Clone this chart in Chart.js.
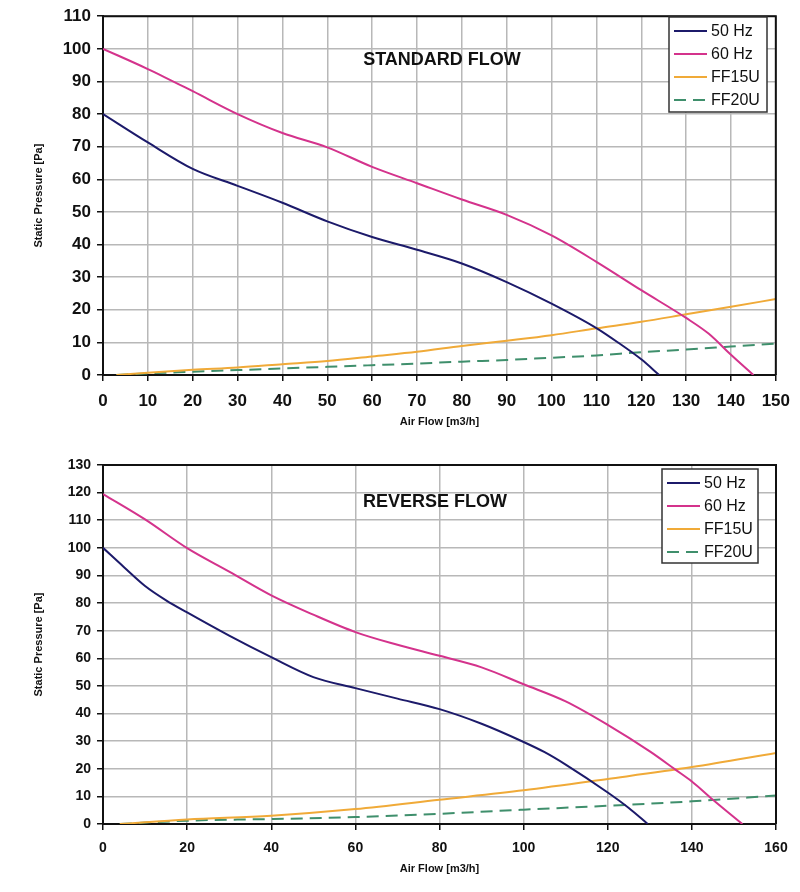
<!DOCTYPE html>
<html lang="en">
<head>
    <meta charset="UTF-8">
    <title>Fan curves</title>
    <script src="https://cdn.jsdelivr.net/npm/chart.js@4.4.1/dist/chart.umd.min.js"></script>
    <style>
        body { margin: 0; background: #fff; }
        .box { position: relative; width: 800px; }
    </style>
</head>
<body>
<div class="box" style="height:440px"><canvas id="stdChart"></canvas></div>
<div class="box" style="height:452px"><canvas id="revChart"></canvas></div>
<script>
    // standard flow
    const stdFlow50 = [0, 10, 20, 30, 40, 50, 60, 70, 80, 90, 100, 110, 115, 120, 124];
    const stdP50 = [80, 71.3, 63.2, 58, 52.8, 47.1, 42.3, 38.4, 34.2, 28.5, 21.9, 14.4, 9.8, 4.8, 0];
    const stdFlow60 = [0, 10, 20, 30, 40, 50, 60, 70, 80, 90, 100, 110, 120, 130, 135, 140, 145];
    const stdP60 = [100, 93.8, 87, 80, 74.2, 69.8, 63.8, 58.8, 53.8, 49.1, 42.8, 34.7, 26, 17.5, 12.7, 6.2, 0];
    const stdFlowFF = [3, 10, 20, 30, 40, 50, 60, 70, 80, 90, 100, 110, 120, 130, 140, 150];
    const stdFF15 = [0, 0.7, 1.6, 2.3, 3.3, 4.3, 5.7, 7.1, 8.9, 10.5, 12.2, 14.3, 16.3, 18.6, 20.9, 23.3];
    const stdFF20 = [0, 0.5, 1.0, 1.5, 2.0, 2.5, 3.0, 3.5, 4.1, 4.6, 5.3, 6.0, 7.0, 7.8, 8.7, 9.6];

    // reverse flow
    const revFlow50 = [0, 5, 10, 15, 20, 30, 40, 50, 60, 70, 80, 90, 100, 105, 110, 120, 125, 129.5];
    const revP50 = [100, 93, 86.2, 81, 76.6, 68.2, 60.4, 53.2, 49.2, 45.4, 41.6, 36.3, 29.7, 26, 21.5, 11.4, 5.8, 0];
    const revFlow60 = [0, 10, 20, 30, 40, 50, 60, 70, 80, 90, 100, 110, 120, 130, 136, 140, 145, 152];
    const revP60 = [119.5, 110.3, 99.9, 91.4, 82.8, 75.8, 69.5, 64.9, 60.9, 56.7, 50.6, 44.4, 35.9, 26.3, 19.8, 15.4, 8.8, 0];
    const revFlowFF = [4, 20, 40, 60, 80, 100, 120, 140, 160];
    const revFF15 = [0, 1.6, 3.0, 5.4, 8.8, 12.2, 16.3, 20.6, 25.7];
    const revFF20 = [0, 1.2, 1.8, 2.5, 3.7, 5.2, 6.6, 8.2, 10.3];

    const seriesNames = ['50 Hz', '60 Hz', 'FF15U', 'FF20U'];
    const seriesColors = ['#1c1a6a', '#d4338c', '#f0aa38', '#3f8f6c'];

    function pts(xs, ys) {
        return xs.map((x, i) => ({x: x, y: ys[i]}));
    }

    // legend box + title drawn on the canvas
    const boxLegend = {
        id: 'boxLegend',
        afterDraw(chart, args, opts) {
            const ctx = chart.ctx;
            ctx.save();
            ctx.fillStyle = '#fff';
            ctx.fillRect(opts.x, opts.y, opts.w, opts.h);
            ctx.strokeStyle = '#333';
            ctx.lineWidth = 1.5;
            ctx.strokeRect(opts.x, opts.y, opts.w, opts.h);
            ctx.font = opts.fontSize + 'px "Liberation Sans", Arial, sans-serif';
            ctx.textBaseline = 'middle';
            chart.data.datasets.forEach((ds, i) => {
                const yy = opts.y + opts.first + i * opts.step;
                ctx.strokeStyle = ds.borderColor;
                ctx.lineWidth = 2;
                ctx.setLineDash(ds.borderDash || []);
                ctx.beginPath();
                ctx.moveTo(opts.x + 5, yy);
                ctx.lineTo(opts.x + 38, yy);
                ctx.stroke();
                ctx.setLineDash([]);
                ctx.fillStyle = '#111';
                ctx.fillText(ds.label, opts.x + 42, yy + 1);
            });
            ctx.font = 'bold ' + opts.titleSize + 'px "Liberation Sans", Arial, sans-serif';
            ctx.textAlign = 'center';
            ctx.fillStyle = '#111';
            ctx.fillText(opts.title, opts.tx, opts.ty);
            ctx.restore();
        }
    };

    function makeChart(id, sets, xMax, xStep, yMax, tickSize, top, xAxisH, xTitlePad, legend) {
        const data = {
            datasets: sets.map((s, i) => ({
                label: seriesNames[i],
                data: s,
                borderColor: seriesColors[i],
                borderWidth: 2,
                borderDash: i === 3 ? [12, 7] : [],
                pointRadius: 0,
                fill: false,
                cubicInterpolationMode: 'monotone'
            }))
        };
        const tickFont = {family: '"Liberation Sans", Arial, sans-serif', size: tickSize, weight: 'bold'};
        const titleFont = {family: '"Liberation Sans", Arial, sans-serif', size: 11, weight: 'bold'};
        const grid = {color: '#b8b8b8', lineWidth: 1.5, tickLength: 6, tickColor: '#111'};
        return new Chart(document.getElementById(id).getContext('2d'), {
            type: 'line',
            data: data,
            plugins: [boxLegend],
            options: {
                responsive: true,
                maintainAspectRatio: false,
                animation: false,
                layout: {padding: {top: top, right: 24, left: 0, bottom: 0}},
                plugins: {
                    legend: {display: false},
                    tooltip: {enabled: false},
                    boxLegend: legend
                },
                scales: {
                    x: {
                        type: 'linear',
                        min: 0, max: xMax,
                        border: {color: '#111', width: 2},
                        grid: grid,
                        ticks: {stepSize: xStep, font: tickFont, color: '#111', padding: 10, maxRotation: 0},
                        title: {display: true, text: 'Air Flow [m3/h]', font: titleFont, color: '#111',
                                padding: {top: 4, bottom: xTitlePad}},
                        afterFit(scale) { scale.height = xAxisH; }
                    },
                    y: {
                        min: 0, max: yMax,
                        border: {color: '#111', width: 2},
                        grid: grid,
                        ticks: {stepSize: 10, font: tickFont, color: '#111', padding: 6},
                        title: {display: true, text: 'Static Pressure [Pa]', font: titleFont, color: '#111',
                                padding: {top: 32, bottom: 4}},
                        afterFit(scale) { scale.width = 103; }
                    }
                }
            }
        });
    }

    // top and right frame of plot area
    Chart.register({
        id: 'frame',
        afterDatasetsDraw(chart) {
            const a = chart.chartArea, ctx = chart.ctx;
            ctx.save();
            ctx.strokeStyle = '#111';
            ctx.lineWidth = 2;
            ctx.beginPath();
            ctx.moveTo(a.left, a.top);
            ctx.lineTo(a.right, a.top);
            ctx.lineTo(a.right, a.bottom);
            ctx.stroke();
            ctx.restore();
        }
    });

    makeChart('stdChart',
        [pts(stdFlow50, stdP50), pts(stdFlow60, stdP60), pts(stdFlowFF, stdFF15), pts(stdFlowFF, stdFF20)],
        150, 10, 110, 17, 15, 65, 11,
        {x: 669, y: 17, w: 98, h: 95, first: 14, step: 23, fontSize: 16,
         title: 'STANDARD FLOW', titleSize: 18, tx: 442, ty: 60});

    makeChart('revChart',
        [pts(revFlow50, revP50), pts(revFlow60, revP60), pts(revFlowFF, revFF15), pts(revFlowFF, revFF20)],
        160, 20, 130, 14, 25, 68, 16,
        {x: 662, y: 29, w: 96, h: 94, first: 14, step: 23, fontSize: 16,
         title: 'REVERSE FLOW', titleSize: 18, tx: 435, ty: 62});
</script>
</body>
</html>
